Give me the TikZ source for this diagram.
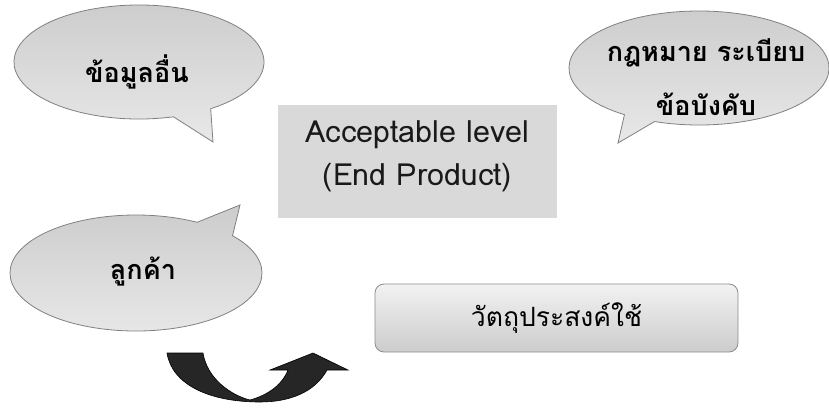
\documentclass[tikz,border=0pt]{standalone}
\usepackage{fontspec}
\setmainfont{Liberation Sans}
\newfontfamily\thaifont[Script=Thai]{Loma}
\usetikzlibrary{shadings,calc}
\begin{document}
\begin{tikzpicture}[x=1pt,y=-1pt,
  bubble/.style={draw=black!50, line width=0.8pt, top color=black!20, bottom color=black!9},
  bubbletext/.style={font=\thaifont\bfseries\fontsize{27}{31}\selectfont, text=black},
  levelbox/.style={fill=black!15, draw=none, minimum width=279pt, minimum height=113pt, inner sep=0pt},
  leveltext/.style={font=\thaifont\fontsize{30.5}{34}\selectfont, text=black!90},
  aimbox/.style={draw=black!45, line width=0.8pt, rounded corners=9pt, top color=black!5, bottom color=black!20,
    minimum width=363pt, minimum height=68pt, inner sep=0pt},
  aimtext/.style={font=\thaifont\fontsize{26.5}{30}\selectfont, text=black},
  turnarrow/.style={fill=black!85, draw=black, line width=0.6pt}
]
\useasboundingbox (0,0) rectangle (829,407);

% speech bubble: other information (tail to the lower right)
\coordinate (tipA) at (213,142);
\draw[bubble] (tipA) -- ($(139,62)+(74:125 and 57)$) arc[start angle=74, end angle=415, x radius=125, y radius=57] -- cycle;
\node[bubbletext] (other) at (137,72) {ข้อมูลอื่น};

% speech bubble: laws and regulations (tail to the lower left)
\coordinate (tipB) at (618,143);
\draw[bubble] (tipB) -- ($(699,68)+(125:130 and 57)$) arc[start angle=125, end angle=470, x radius=130, y radius=57] -- cycle;
\node[bubbletext] (law1) at (706,53) {กฎหมาย ระเบียบ};
\node[bubbletext] (law2) at (706,104) {ข้อบังคับ};

% speech bubble: customer (tail to the upper right)
\coordinate (tipC) at (240,205);
\draw[bubble] (tipC) -- ($(136,273)+(320:126 and 58)$) arc[start angle=320, end angle=659, x radius=126, y radius=58] -- cycle;
\node[bubbletext] (customer) at (143,272) {ลูกค้า};

% central box
\node[levelbox] (level) at (417.5,161.5) {};
\node[leveltext] (lev1) at (417.5,135) {Acceptable level};
\node[leveltext] (lev2) at (417.5,178) {(End Product)};

% intended use box
\node[aimbox, aimtext] (aim) at (556.5,318) {วัตถุประสงค์ใช้};

% curved arrow
\draw[turnarrow] (167,353) -- (203,353)
  .. controls (207,378) and (230,395) .. (250,400)
  .. controls (268,395) and (282,385) .. (288,370)
  -- (270,370) -- (313,353) -- (348,370) -- (327,370)
  .. controls (315,392) and (290,402) .. (260,402)
  .. controls (210,402) and (172,385) .. (167,353) -- cycle;
\end{tikzpicture}
\end{document}
